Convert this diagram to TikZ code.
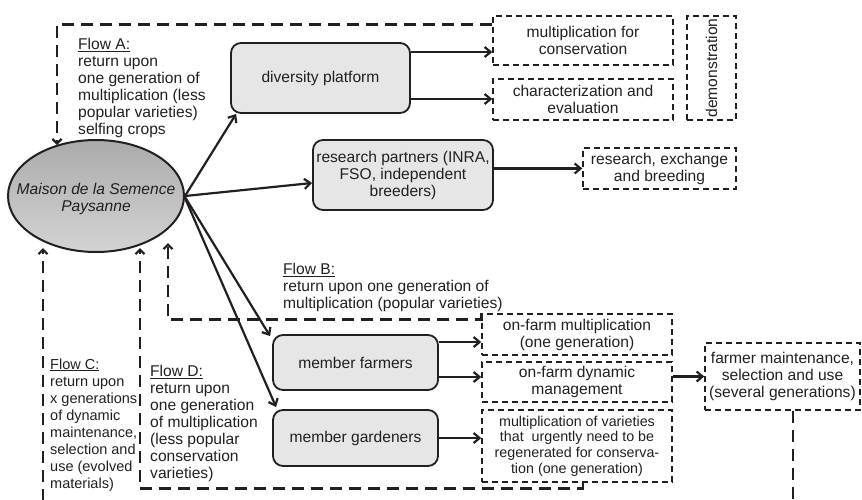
\documentclass[tikz,border=0pt]{standalone}
\usepackage{fontspec}
\setmainfont{Liberation Sans}
\usetikzlibrary{arrows.meta,shapes.geometric,calc}
\definecolor{ink}{RGB}{35,31,32}
\definecolor{boxfill}{RGB}{230,230,230}
\newcommand\mainfs{\fontsize{15.6pt}{17pt}\selectfont}
\newcommand\flowcfs{\fontsize{14.5pt}{17pt}\selectfont}
\newcommand\smallfs{\fontsize{14.3pt}{15.6pt}\selectfont}
\begin{document}
\begin{tikzpicture}[x=1pt,y=-1pt,
  every node/.style={text=ink, font=\mainfs},
  procbox/.style={rectangle, rounded corners=10pt, draw=ink, line width=1.8pt, fill=boxfill, inner sep=0pt, align=center},
  outbox/.style={rectangle, draw=ink, line width=1.4pt, dash pattern=on 6pt off 4pt, inner sep=0pt, align=center},
  arr/.style={draw=ink, line width=2.2pt, -{Straight Barb[length=6pt,width=10pt]}},
  flowline/.style={draw=ink, line width=2.8pt, dash pattern=on 12pt off 7pt},
  flowarr/.style={flowline, -{Straight Barb[length=4.5pt,width=9pt,line width=2.2pt]}},
  flowlabel/.style={anchor=north west, inner sep=0pt, align=left}
]
\useasboundingbox (0,0) rectangle (862,499);

% central ellipse
\node[ellipse, draw=ink, line width=2pt, top color=black!33, bottom color=black!17,
      minimum width=176pt, minimum height=112pt, inner sep=0pt] (msp) at (96,196) {};
\node[align=center, font=\mainfs\itshape, inner sep=0pt] (msptxt) at (96,199) {Maison de la Semence\\Paysanne};

% process boxes
\node[procbox, minimum width=179pt, minimum height=70pt] (div) at (320.5,78) {diversity platform};
\node[procbox, minimum width=180pt, minimum height=70pt] (rp) at (403,175) {research partners (INRA,\\FSO, independent\\breeders)};
\node[procbox, minimum width=165pt, minimum height=55pt] (mf) at (355.5,362.5) {member farmers};
\node[procbox, minimum width=165pt, minimum height=56pt] (mg) at (355.5,438) {member gardeners};

% outcome boxes
\node[outbox, minimum width=180pt, minimum height=49pt] (mc) at (583,40.5) {multiplication for\\conservation};
\node[outbox, minimum width=180pt, minimum height=41pt] (ce) at (583,99.5) {characterization and\\evaluation};
\node[outbox, minimum width=49pt, minimum height=104pt] (demo) at (711.5,68) {\rotatebox{90}{demonstration}};
\node[outbox, minimum width=153pt, minimum height=41pt] (re) at (659.5,168.5) {research, exchange\\and breeding};
\node[outbox, minimum width=190pt, minimum height=41pt] (ofm) at (577,334.5) {on-farm multiplication\\(one generation)};
\node[outbox, minimum width=190pt, minimum height=40pt] (odm) at (577,382) {on-farm dynamic\\management};
\node[outbox, minimum width=190pt, minimum height=72pt, font=\smallfs] (mv) at (577,446) {multiplication of varieties\\that~ urgently need to be\\regenerated for conserva-\\tion (one generation)};
\node[outbox, minimum width=155pt, minimum height=67pt] (fm) at (782.5,376.5) {farmer maintenance,\\selection and use\\(several generations)};

% flow labels
\node[flowlabel] (lA) at (78,37.7) {\underline{Flow A:}\\return upon\\one generation of\\multiplication (less\\popular varieties)\\selfing crops};
\node[flowlabel] (lB) at (283,263.3) {\underline{Flow B:}\\return upon one generation of\\multiplication (popular varieties)};
\node[flowlabel, font=\flowcfs] (lC) at (50,358.3) {\underline{Flow C:}\\return upon\\x generations\\of dynamic\\maintenance,\\selection and\\use (evolved\\materials)};
\node[flowlabel] (lD) at (150,365) {\underline{Flow D:}\\return upon\\one generation\\of multiplication\\(less popular\\conservation\\varieties)};

% solid arrows
\draw[arr] (msp.east) -- ([xshift=6pt]div.south west);
\draw[arr] (msp.east) -- ([yshift=-8pt]rp.west);
\draw[arr] ([yshift=-1pt]msp.east) -- ([xshift=-2pt,yshift=-2pt]mf.north west);
\draw[arr] ([yshift=-2pt]msp.east) -- ([xshift=4pt,yshift=2pt]mg.north west);

\draw[arr] ([yshift=26pt]div.east) coordinate (d1) -- (d1 -| mc.west);
\draw[arr] ([yshift=-21pt]div.east) coordinate (d2) -- (d2 -| ce.west);
\draw[arr] (rp.east |- re.west) -- (re.west);
\draw[arr] ([yshift=20.5pt]mf.east) coordinate (f1) -- (f1 -| ofm.west);
\draw[arr] ([yshift=-14.5pt]mf.east) coordinate (f2) -- (f2 -| odm.west);
\draw[arr] (mg.east) -- (mg.east -| mv.west);
\draw[arr] (fm.west -| odm.east) -- (fm.west);

% flow return lines
\coordinate (fA) at (57,145);
\coordinate (fB) at (168,243);
\coordinate (fC) at (43,248);
\coordinate (fD) at (140,248);
\coordinate (cbot) at (43,501);
\coordinate (fmbot) at (793,501);

\draw[flowarr] ([yshift=-9pt]mc.north west) -| (fA);
\draw[flowarr] (ofm.north west) -- ++(0,6) -| (fB);
\draw[flowarr] (cbot) -- (fC);
\draw[flowarr] ([xshift=6pt]mv.south) -- ++(0,6) -| (fD);
\draw[flowline] ([xshift=10.5pt]fm.south) -- (fmbot);
\end{tikzpicture}
\end{document}
